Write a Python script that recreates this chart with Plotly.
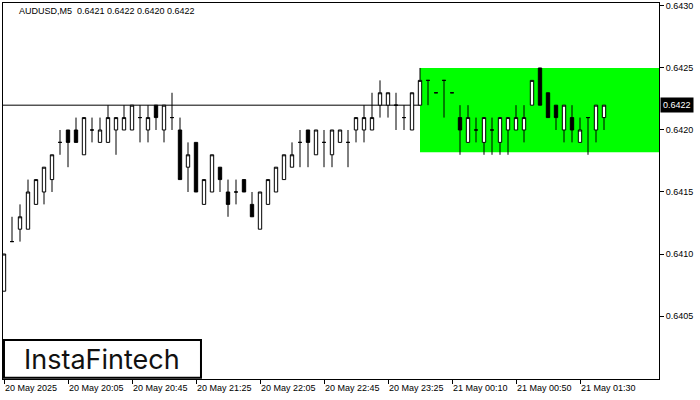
import plotly.graph_objects as go

symbol_title = "AUDUSD,M5  0.6421 0.6422 0.6420 0.6422"

opens = [0.6407, 0.6411, 0.6412, 0.6412, 0.6414, 0.6415, 0.6416, 0.6419, 0.6420, 0.6420,
         0.6418, 0.6420, 0.6419, 0.6419, 0.6420, 0.6420, 0.6420, 0.6421, 0.6420, 0.6422,
         0.6420, 0.6421, 0.6420, 0.6417, 0.6419, 0.6414, 0.6415, 0.6417, 0.6415, 0.6415,
         0.6416, 0.6414, 0.6412, 0.6414, 0.6415, 0.6416, 0.6417, 0.6419, 0.6420, 0.6418,
         0.6419, 0.6418, 0.6419, 0.6419, 0.6420, 0.6420, 0.6420, 0.6422, 0.6422, 0.6422,
         0.6421, 0.6420, 0.6422, 0.6424, 0.6423, 0.6424, 0.6423, 0.6421, 0.6419, 0.6420,
         0.6419, 0.6420, 0.6419, 0.6420, 0.6420, 0.6420, 0.6422, 0.6425, 0.6423, 0.6422,
         0.6420, 0.6421, 0.6419, 0.6421, 0.6420, 0.6421]
highs = [0.6410, 0.6413, 0.6414, 0.6416, 0.6416, 0.6417, 0.6418, 0.6420, 0.6420, 0.6421,
         0.6421, 0.6421, 0.6421, 0.6422, 0.6421, 0.6422, 0.6422, 0.6422, 0.6422, 0.6422,
         0.6422, 0.6423, 0.6421, 0.6419, 0.6419, 0.6416, 0.6418, 0.6417, 0.6416, 0.6416,
         0.6416, 0.6415, 0.6415, 0.6416, 0.6417, 0.6418, 0.6419, 0.6420, 0.6420, 0.6420,
         0.6420, 0.6420, 0.6420, 0.6420, 0.6421, 0.6422, 0.6423, 0.6424, 0.6423, 0.6423,
         0.6422, 0.6423, 0.6425, 0.6424, 0.6423, 0.6424, 0.6423, 0.6422, 0.6422, 0.6421,
         0.6421, 0.6421, 0.6421, 0.6421, 0.6422, 0.6422, 0.6424, 0.6425, 0.6423, 0.6422,
         0.6422, 0.6422, 0.6421, 0.6421, 0.6422, 0.6422]
lows = [0.6407, 0.6411, 0.6411, 0.6412, 0.6414, 0.6414, 0.6415, 0.6418, 0.6417, 0.6419,
        0.6418, 0.6419, 0.6419, 0.6419, 0.6418, 0.6420, 0.6420, 0.6419, 0.6419, 0.6420,
        0.6419, 0.6420, 0.6416, 0.6415, 0.6415, 0.6414, 0.6415, 0.6415, 0.6413, 0.6414,
        0.6415, 0.6413, 0.6412, 0.6414, 0.6415, 0.6416, 0.6417, 0.6417, 0.6417, 0.6418,
        0.6417, 0.6417, 0.6419, 0.6417, 0.6419, 0.6419, 0.6420, 0.6421, 0.6421, 0.6420,
        0.6420, 0.6420, 0.6422, 0.6422, 0.6423, 0.6421, 0.6423, 0.6418, 0.6419, 0.6419,
        0.6418, 0.6418, 0.6418, 0.6418, 0.6420, 0.6419, 0.6422, 0.6422, 0.6421, 0.6420,
        0.6419, 0.6419, 0.6419, 0.6418, 0.6419, 0.6420]
closes = [0.6410, 0.6411, 0.6413, 0.6415, 0.6416, 0.6417, 0.6418, 0.6419, 0.6419, 0.6419,
          0.6421, 0.6420, 0.6420, 0.6421, 0.6421, 0.6421, 0.6422, 0.6421, 0.6421, 0.6421,
          0.6422, 0.6421, 0.6416, 0.6418, 0.6415, 0.6416, 0.6418, 0.6416, 0.6414, 0.6415,
          0.6415, 0.6413, 0.6415, 0.6416, 0.6417, 0.6418, 0.6418, 0.6419, 0.6419, 0.6420,
          0.6419, 0.6420, 0.6420, 0.6419, 0.6421, 0.6421, 0.6421, 0.6423, 0.6423, 0.6422,
          0.6421, 0.6423, 0.6424, 0.6424, 0.6423, 0.6424, 0.6423, 0.6420, 0.6421, 0.6420,
          0.6421, 0.6420, 0.6421, 0.6421, 0.6421, 0.6421, 0.6424, 0.6422, 0.6421, 0.6421,
          0.6422, 0.6420, 0.6420, 0.6421, 0.6422, 0.6422]

time_tick_index = [0, 8, 16, 24, 32, 40, 48, 56, 64, 72]
time_tick_labels = ["20 May 2025", "20 May 20:05", "20 May 20:45", "20 May 21:25",
                    "20 May 22:05", "20 May 22:45", "20 May 23:25", "21 May 00:10",
                    "21 May 00:50", "21 May 01:30"]
price_ticks = [0.6405, 0.6410, 0.6415, 0.6420, 0.6425, 0.6430]
current_price = 0.6422
zone_start = 52
zone_top = 0.6425
zone_bottom = 0.64182

idx = list(range(len(opens)))

fig = go.Figure()
fig.add_trace(go.Candlestick(
    x=idx, open=opens, high=highs, low=lows, close=closes,
    increasing=dict(fillcolor="white", line=dict(color="black", width=1)),
    decreasing=dict(fillcolor="black", line=dict(color="black", width=1)),
    whiskerwidth=0, showlegend=False, hoverinfo="skip",
))

font_ui = "Liberation Sans, Arial, sans-serif"

fig.update_layout(
    width=700, height=400,
    margin=dict(l=3, r=41, t=3, b=21, autoexpand=False),
    paper_bgcolor="white", plot_bgcolor="white",
    boxgap=0.4,
    showlegend=False,
    font=dict(family=font_ui, size=9, color="black"),
    xaxis=dict(
        range=[-0.125, 81.875], rangeslider=dict(visible=False),
        tickmode="array", tickvals=time_tick_index, ticktext=time_tick_labels,
        ticks="outside", ticklen=4, tickcolor="black",
        ticklabelposition="outside right", automargin=False,
        showgrid=False, zeroline=False,
        showline=True, linecolor="black", linewidth=1, mirror=True,
        tickfont=dict(family=font_ui, size=9, color="black"),
    ),
    yaxis=dict(
        range=[0.639992, 0.643024], side="right", automargin=False,
        tickmode="array", tickvals=price_ticks, tickformat=".4f",
        ticks="outside", ticklen=4, tickcolor="black",
        showgrid=False, zeroline=False,
        showline=True, linecolor="black", linewidth=1, mirror=True,
        tickfont=dict(family=font_ui, size=9, color="black"),
    ),
)

# green zone
fig.add_shape(type="rect", xref="x", yref="y", x0=zone_start, x1=81.875,
              y0=zone_bottom, y1=zone_top, fillcolor="#00FF00",
              line=dict(width=0), layer="below")
# current price line
fig.add_shape(type="line", xref="paper", yref="y", x0=0, x1=1,
              y0=current_price, y1=current_price,
              line=dict(color="black", width=1), layer="below")

# price label
fig.add_annotation(xref="paper", yref="y", x=1, y=current_price, xanchor="left",
                   yanchor="middle", xshift=1, text=f"{current_price:.4f}", showarrow=False,
                   bgcolor="black", font=dict(color="white", size=9, family=font_ui),
                   borderpad=2)

# header
fig.add_annotation(xref="paper", yref="paper", x=0.0213, y=0.997, xanchor="left",
                   yanchor="top", text=symbol_title, showarrow=False,
                   font=dict(size=9, family=font_ui, color="black"))

# logo
fig.add_shape(type="rect", xref="paper", yref="paper", x0=0.0015, x1=0.3018,
              y0=0.003, y1=0.1037, line=dict(color="black", width=2),
              fillcolor="white", layer="above")
fig.add_annotation(xref="paper", yref="paper", x=0.151, y=0.053, xanchor="center",
                   yanchor="middle", text="InstaFintech",
                   showarrow=False, font=dict(size=27, family="Inter, sans-serif",
                                              color="#111111"))

fig.write_html("out.html", config={"displayModeBar": False},
               post_script="document.body.style.margin='0';document.body.style.padding='0';")
